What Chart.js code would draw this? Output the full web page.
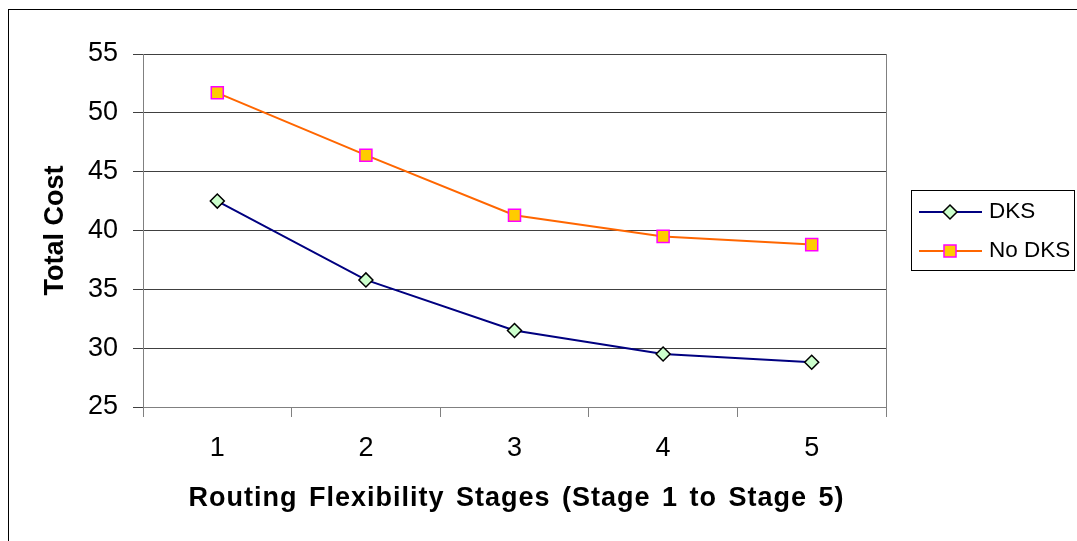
<!DOCTYPE html>
<html>
<head>
<meta charset="utf-8">
<script src="https://cdn.jsdelivr.net/npm/chart.js@4/dist/chart.umd.min.js"></script>
<style>
  html, body { margin: 0; padding: 0; background: #fff; }
  #wrap { width: 1077px; height: 541px; position: relative; }
</style>
</head>
<body>
<div id="wrap"><canvas id="chart"></canvas></div>
<script>
const stages = ["1", "2", "3", "4", "5"];
const dksCost = [42.5, 35.8, 31.5, 29.5, 28.8];
const noDksCost = [51.7, 46.4, 41.3, 39.5, 38.8];
const seriesNames = ["DKS", "No DKS"];
const xTitle = "Routing Flexibility Stages (Stage 1 to Stage 5)";
const yTitle = "Total Cost";
const yMin = 25, yMax = 55, yStep = 5;

const FONT = "'Liberation Sans', Arial, sans-serif";
Chart.defaults.font.family = FONT;
Chart.defaults.color = "#000";

// outer frame, right border of the plot area, and the x axis title
const framePlugin = {
  id: "frame",
  beforeDraw(chart) {
    const ctx = chart.ctx;
    ctx.save();
    ctx.strokeStyle = "#000";
    ctx.lineWidth = 1;
    ctx.strokeRect(8.5, 9.5, 1200, 600);
    ctx.restore();
  },
  afterDatasetsDraw(chart) {
    const { ctx, chartArea } = chart;
    ctx.save();
    ctx.strokeStyle = "#808080";
    ctx.lineWidth = 1;
    ctx.beginPath();
    ctx.moveTo(Math.round(chartArea.right) + 0.5, chartArea.top);
    ctx.lineTo(Math.round(chartArea.right) + 0.5, chartArea.bottom + 10);
    ctx.stroke();

    // x title is drawn here so it can get the wider Excel-like spacing
    ctx.font = "bold 27px " + FONT;
    ctx.fillStyle = "#000";
    ctx.textAlign = "center";
    ctx.textBaseline = "alphabetic";
    ctx.letterSpacing = "1px";
    ctx.wordSpacing = "3px";
    ctx.fillText(xTitle, (chartArea.left + chartArea.right) / 2 + 2, 506);
    ctx.restore();
  }
};

function drawMarker(ctx, ds, x, y) {
  ctx.save();
  ctx.fillStyle = ds.pointBackgroundColor;
  ctx.strokeStyle = ds.pointBorderColor;
  ctx.lineWidth = ds.pointBorderWidth;
  ctx.beginPath();
  if (ds.pointStyle === "rectRot") {
    const r = ds.pointRadius;
    ctx.moveTo(x, y - r);
    ctx.lineTo(x + r, y);
    ctx.lineTo(x, y + r);
    ctx.lineTo(x - r, y);
    ctx.closePath();
  } else {
    const s = ds.pointRadius * Math.SQRT1_2;
    ctx.rect(x - s, y - s, 2 * s, 2 * s);
  }
  ctx.fill();
  ctx.stroke();
  ctx.restore();
}

// Excel-style legend box on the right
const legendBox = {
  id: "legendBox",
  afterDraw(chart) {
    const ctx = chart.ctx;
    ctx.save();
    ctx.strokeStyle = "#000";
    ctx.lineWidth = 1;
    ctx.strokeRect(911.5, 190.5, 163, 80);
    ctx.font = "22.5px " + FONT;
    ctx.textBaseline = "middle";
    chart.data.datasets.forEach((ds, i) => {
      const y = 212 + i * 39;
      ctx.strokeStyle = ds.borderColor;
      ctx.lineWidth = ds.borderWidth;
      ctx.beginPath();
      ctx.moveTo(919, y);
      ctx.lineTo(982, y);
      ctx.stroke();
      drawMarker(ctx, ds, 950, y);
      ctx.fillStyle = "#000";
      ctx.fillText(ds.label, 989, y);
    });
    ctx.restore();
  }
};

new Chart(document.getElementById("chart"), {
  type: "line",
  data: {
    labels: stages,
    datasets: [
      {
        label: seriesNames[0],
        data: dksCost,
        borderColor: "#000080",
        borderWidth: 2,
        pointStyle: "rectRot",
        pointRadius: 7,
        pointBackgroundColor: "#ccffcc",
        pointBorderColor: "#000",
        pointBorderWidth: 1.5,
        tension: 0
      },
      {
        label: seriesNames[1],
        data: noDksCost,
        borderColor: "#ff6600",
        borderWidth: 2,
        pointStyle: "rect",
        pointRadius: 8.5,
        pointBackgroundColor: "#ffcc00",
        pointBorderColor: "#ff00ff",
        pointBorderWidth: 1.5,
        tension: 0
      }
    ]
  },
  options: {
    responsive: true,
    maintainAspectRatio: false,
    animation: false,
    layout: { padding: { left: 0, top: 54, right: 191, bottom: 0 } },
    plugins: {
      legend: { display: false },
      tooltip: { enabled: false }
    },
    scales: {
      x: {
        offset: true,
        afterFit(scale) { scale.height = 134; },
        grid: {
          offset: true,
          drawOnChartArea: false,
          drawTicks: true,
          tickLength: 10,
          color: "#808080"
        },
        border: { display: true, color: "#808080" },
        ticks: { font: { size: 27 }, padding: 15, color: "#000" }
      },
      y: {
        min: yMin,
        max: yMax,
        afterFit(scale) { scale.width = 143; },
        grid: {
          color: "#404040",
          drawTicks: true,
          tickLength: 10
        },
        border: { display: true, color: "#808080" },
        ticks: { stepSize: yStep, font: { size: 27 }, padding: 15, color: "#000" },
        title: {
          display: true,
          text: yTitle,
          font: { size: 27, weight: "bold" },
          padding: { top: 39, bottom: 0 }
        }
      }
    }
  },
  plugins: [framePlugin, legendBox]
});
</script>
</body>
</html>
